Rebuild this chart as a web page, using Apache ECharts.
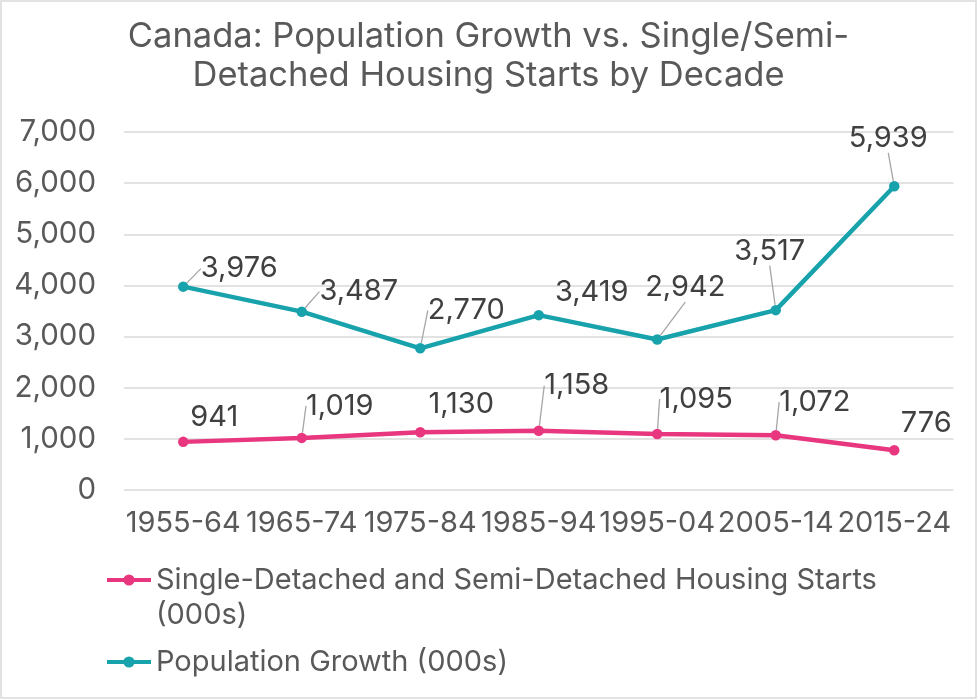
<!DOCTYPE html>
<html>
<head>
<meta charset="utf-8">
<script src="https://cdn.jsdelivr.net/npm/echarts@6/dist/echarts.min.js"></script>
<style>
  html, body { margin: 0; padding: 0; background: #fff; }
  #main { width: 977px; height: 699px; }
</style>
</head>
<body>
<div id="main"></div>
<script>
var chart = echarts.init(document.getElementById('main'));

var decades = ['1955-64', '1965-74', '1975-84', '1985-94', '1995-04', '2005-14', '2015-24'];
var housingStarts = [941, 1019, 1130, 1158, 1095, 1072, 776];
var popGrowth = [3976, 3487, 2770, 3419, 2942, 3517, 5939];
var yTicks = [0, 1000, 2000, 3000, 4000, 5000, 6000, 7000];

var housingName = 'Single-Detached and Semi-Detached Housing Starts (000s)';
var popName = 'Population Growth (000s)';

// where each data label sits, relative to its point (px), and whether it gets a leader line
var housingLabelOff = [[31, -25], [38, -32], [41, -28], [38, -45], [39, -35], [39, -33], [32, -27]];
var housingLeader = [false, true, false, true, true, true, false];
var popLabelOff = [[56, -18], [57, -20], [46, -38], [53, -23], [28, -52], [-6, -59], [-6, -48]];
var popLeader = [true, true, true, false, true, true, true];

var textColor = '#595959';
var fontFam = 'Inter, "Noto Sans", sans-serif';

function withLeaders(values, leaders) {
    return values.map(function(v, i) {
        return { value: v, labelLine: { show: leaders[i] } };
    });
}

function placeLabel(offsets) {
    return function(params) {
        var off = offsets[params.dataIndex];
        return {
            x: params.rect.x + params.rect.width / 2 + off[0],
            y: params.rect.y + params.rect.height / 2 + off[1],
            align: 'center',
            verticalAlign: 'middle'
        };
    };
}

function lineSeries(name, values, color, offsets, leaders) {
    return {
        name: name,
        type: 'line',
        data: withLeaders(values, leaders),
        symbol: 'circle',
        symbolSize: 10.5,
        lineStyle: { color: color, width: 4.5 },
        itemStyle: { color: color },
        label: {
            show: true,
            fontSize: 29,
            fontFamily: fontFam,
            color: '#404040',
            formatter: function(p) { return echarts.format.addCommas(p.value); }
        },
        labelLine: {
            show: true,
            lineStyle: { color: '#a6a6a6', width: 1.3 }
        },
        labelLayout: placeLabel(offsets),
        z: 3
    };
}

chart.setOption({
    animation: false,
    backgroundColor: '#fff',
    textStyle: { fontFamily: fontFam },
    graphic: [{
        type: 'rect',
        shape: { x: 1, y: 1, width: 975, height: 697 },
        style: { fill: 'none', stroke: '#d9d9d9', lineWidth: 1.5 },
        silent: true
    }],
    title: {
        text: 'Canada: Population Growth vs. Single/Semi-\nDetached Housing Starts by Decade',
        left: 'center',
        top: 17,
        padding: 0,
        textStyle: {
            fontSize: 34.5,
            fontWeight: 'normal',
            fontFamily: fontFam,
            color: textColor,
            lineHeight: 39
        }
    },
    grid: {
        left: 124,
        right: 23.5,
        top: 132,
        bottom: 209,
        containLabel: false
    },
    xAxis: {
        type: 'category',
        data: decades,
        boundaryGap: true,
        axisLine: { show: false },
        axisTick: { show: false },
        axisLabel: {
            fontSize: 29,
            fontFamily: fontFam,
            color: textColor,
            margin: 19,
            interval: 0
        }
    },
    yAxis: {
        type: 'value',
        min: yTicks[0],
        max: yTicks[yTicks.length - 1],
        interval: 1000,
        axisLine: { show: false },
        axisTick: { show: false },
        splitLine: { lineStyle: { color: '#d9d9d9', width: 1.5 } },
        axisLabel: {
            fontSize: 29.5,
            fontFamily: fontFam,
            color: textColor,
            margin: 28,
            formatter: function(v) { return echarts.format.addCommas(v); }
        }
    },
    legend: {
        orient: 'vertical',
        left: 105,
        top: 527.5,
        padding: 0,
        itemGap: 12,
        itemWidth: 44,
        itemHeight: 14,
        lineStyle: { width: 4 },
        data: [housingName, popName],
        formatter: function(name) {
            if (name === housingName) {
                // leading blank line keeps the icon level with the first text line
                return '\nSingle-Detached and Semi-Detached Housing Starts\n(000s)';
            }
            return name;
        },
        textStyle: {
            fontSize: 29,
            fontFamily: fontFam,
            color: textColor,
            lineHeight: 35
        }
    },
    series: [
        lineSeries(housingName, housingStarts, '#e8367f', housingLabelOff, housingLeader),
        lineSeries(popName, popGrowth, '#17a2ac', popLabelOff, popLeader)
    ]
});
</script>
</body>
</html>
